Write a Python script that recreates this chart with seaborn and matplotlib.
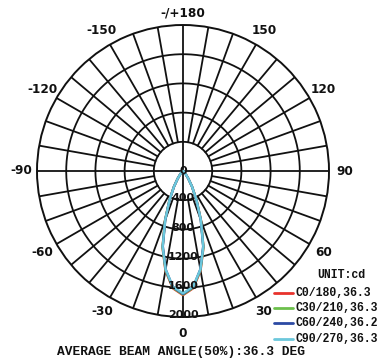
import numpy as np
import pandas as pd
import matplotlib
matplotlib.use("Agg")
import matplotlib.pyplot as plt
from matplotlib.lines import Line2D
import seaborn as sns

# Luminous intensity (cd) against gamma angle for each C-plane pair
gamma_deg = [0, 5, 10, 15, 20, 25, 30, 35, 40, 45, 50, 55, 60, 65, 70, 75, 80, 85, 90]
c0_180 = [1700, 1612, 1385, 1085, 722, 440, 250, 128, 60, 26, 11, 5, 2, 0, 0, 0, 0, 0, 0]
c30_210 = [1692, 1605, 1378, 1080, 718, 437, 248, 127, 59, 25, 10, 4, 2, 0, 0, 0, 0, 0, 0]
c60_240 = [1684, 1596, 1368, 1068, 710, 432, 245, 125, 58, 25, 10, 4, 2, 0, 0, 0, 0, 0, 0]
c90_270 = [1676, 1590, 1370, 1075, 716, 436, 247, 126, 58, 25, 10, 4, 2, 0, 0, 0, 0, 0, 0]

plane_labels = ["C0/180,36.3", "C30/210,36.3", "C60/240,36.2", "C90/270,36.3"]
plane_colors = ["#e8322c", "#6cc04c", "#2c4aa4", "#6cc8dc"]
ring_values = [400, 800, 1200, 1600, 2000]
angle_ticks = [0, 30, 60, 90, 120, 150, 180, -150, -120, -90, -60, -30]
title_text = "AVERAGE BEAM ANGLE(50%):36.3 DEG"
unit_text = "UNIT:cd"

# Build the long table: each pair is drawn from -90 through 0 to +90
rows = []
for label, vals in zip(plane_labels, [c0_180, c30_210, c60_240, c90_270]):
    angles = [-a for a in gamma_deg[::-1]] + gamma_deg[1:]
    inten = vals[::-1] + vals[1:]
    for a, v in zip(angles, inten):
        rows.append({"theta": np.radians(a), "cd": v, "plane": label})
df = pd.DataFrame(rows)

sns.set_style("white")
plt.rcParams["font.family"] = ["DejaVu Sans"]

W, H = 382, 360
fig = plt.figure(figsize=(W / 100, H / 100), dpi=100)
cx, cy, R = 183, 171, 146
ax = fig.add_axes([(cx - R) / W, (H - cy - R) / H, 2 * R / W, 2 * R / H], projection="polar")
ax.set_theta_zero_location("S")
ax.set_theta_direction(1)
ax.set_ylim(0, 2000)
ax.grid(False)
ax.set_xticks([])
ax.set_yticks([])
ax.spines["polar"].set_color("#111111")
ax.spines["polar"].set_linewidth(1.4)

gc = "#111111"
glw = 1.3
full = np.linspace(0, 2 * np.pi, 400)
for r in ring_values[:-1]:
    ax.plot(full, np.full_like(full, r), color=gc, lw=glw, zorder=1)
for d in range(0, 360, 10):
    t = np.radians(d)
    r0 = 0 if d % 90 == 0 else ring_values[0]
    ax.plot([t, t], [r0, 2000], color=gc, lw=glw, zorder=1)

sns.lineplot(data=df, x="theta", y="cd", hue="plane", hue_order=plane_labels,
             palette=plane_colors, sort=False, estimator=None, lw=1.7,
             legend=False, ax=ax, zorder=3)
ax.set_xlabel("")
ax.set_ylabel("")

# Angle labels around the outside
for a in angle_ticks:
    txt = "-/+180" if a == 180 else str(a)
    rr = 2160 if a == 180 else 2220
    ax.text(np.radians(a), rr, txt, ha="center", va="center", fontsize=8.7,
            fontweight="bold", color="#111111", clip_on=False)

# Intensity labels along the 0 direction
ax.text(0, 0, "0", ha="center", va="center", fontsize=8, fontweight="bold",
        color="#111111", zorder=4)
for r in ring_values:
    ax.text(0, r - 25, str(r), ha="center", va="center", fontsize=8,
            fontweight="bold", color="#111111", zorder=4)

# Legend block
mono = ["Liberation Mono", "DejaVu Sans Mono"]
fig.text(365 / W, 1 - 275 / H, unit_text, ha="right", va="center", fontsize=8.3,
         fontweight="bold", family=mono, color="#111111")
ys = [293, 308, 323, 339]
for y, lab, col in zip(ys, plane_labels, plane_colors):
    fig.add_artist(Line2D([274 / W, 293 / W], [1 - y / H, 1 - y / H], color=col,
                          lw=2.0, transform=fig.transFigure))
    fig.text(295 / W, 1 - y / H, lab, ha="left", va="center", fontsize=8.3,
             fontweight="bold", family=mono, color="#111111")

fig.text(181 / W, 1 - 352 / H, title_text, ha="center", va="center", fontsize=9.3,
         fontweight="bold", family=mono, color="#111111")

fig.savefig("out.png", dpi=100, facecolor="white")
